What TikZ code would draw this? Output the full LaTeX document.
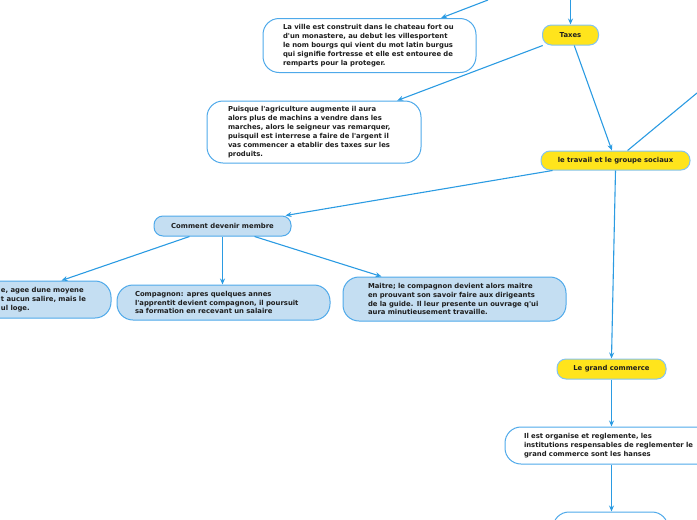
\documentclass[tikz,border=0pt]{standalone}
\usepackage{fontspec}
\setmainfont{DejaVu Sans}
\usetikzlibrary{arrows.meta}
\definecolor{linec}{HTML}{2B9BE2}
\definecolor{bordc}{HTML}{4EA9EA}
\definecolor{yelc}{HTML}{FFE41C}
\definecolor{lbluec}{HTML}{C4DEF2}
\definecolor{txtc}{HTML}{1E1E1E}
\newcommand{\aq}{\textquotesingle}
\tikzset{
  x=1pt, y=-1pt,
  conn/.style={draw=linec, line width=1.1pt},
  arr/.style={conn, -{Stealth[length=6pt,width=5pt]}},
  box/.style={draw=bordc, line width=1pt, fill=white, rounded corners=16pt,
    align=left, text=txtc, inner ysep=0pt,
    font=\fontsize{6.85}{8.9}\selectfont\bfseries},
  lbox/.style={box, fill=lbluec},
  ybox/.style={draw=bordc!70, line width=1pt, fill=yelc, rounded corners=9pt,
    align=center, text=txtc, inner sep=0pt, minimum height=20pt,
    font=\fontsize{6.85}{8}\selectfont\bfseries},
  cbox/.style={ybox, fill=lbluec, draw=bordc}
}
\begin{document}
\begin{tikzpicture}
\useasboundingbox (0,0) rectangle (697,520);
\clip (0,0) rectangle (697,520);

\node[box, minimum width=213pt, minimum height=54pt, inner xsep=20pt, text width=173pt]
  (ville) at (369.5,45.5) {La ville est construit dans le chateau fort ou\\d\aq un monastere, au debut les villesportent\\le nom bourgs qui vient du mot latin burgus\\qui signifie fortresse et elle est entouree de\\remparts pour la proteger.};

\node[box, minimum width=214pt, minimum height=62pt, inner xsep=21pt, text width=172pt]
  (puis) at (314,132) {Puisque l\aq agriculture augmente il aura\\alors plus de machins a vendre dans les\\marches, alors le seigneur vas remarquer,\\puisquil est interrese a faire de l\aq argent il\\vas commencer a etablir des taxes sur les\\produits.};

\node[ybox, minimum width=56pt] (taxes) at (570.5,35) {Taxes};
\node[ybox, minimum width=149pt, minimum height=19pt] (trav) at (615.5,160.5) {le travail et le groupe sociaux};
\node[cbox, minimum width=137pt] (comm) at (222.5,226) {Comment devenir membre};

\node[lbox, minimum width=131pt, minimum height=37pt, inner xsep=21pt, text width=89pt]
  (appr) at (45.5,299.5) {e, agee dune moyene\\t aucun salire, mais le\\ul loge.};
\node[lbox, minimum width=213pt, minimum height=35pt, inner xsep=18pt, text width=177pt]
  (comp) at (223.5,302.5) {Compagnon: apres quelques annes\\l\aq apprentit devient compagnon, il poursuit\\sa formation en recevant un salaire};
\node[lbox, minimum width=223pt, minimum height=44pt, inner xsep=25pt, text width=173pt]
  (mait) at (454.5,299) {Maitre; le compagnon devient alors maitre\\en prouvant son savoir faire aux dirigeants\\de la guide. Il leur presente un ouvrage q\aq ui\\aura minutieusement travaille.};

\node[ybox, minimum width=109pt] (grand) at (611.5,369) {Le grand commerce};
\node[box, minimum width=210pt, minimum height=37pt, inner xsep=19pt, text width=172pt]
  (ilest) at (610,445.5) {Il est organise et reglemente, les\\institutions respensables de reglementer le\\grand commerce sont les hanses};
\node[box, minimum width=115pt, minimum height=28pt] (bott) at (610.5,526) {};

\coordinate (topA) at (488,0);
\coordinate (topB) at (570.5,-2);
\coordinate (rightA) at (697,93);

\draw[arr] (topA) -- (ville);
\draw[arr] (topB) -- (taxes.north);
\draw[arr] (taxes) -- (puis);
\draw[arr] (taxes) -- (trav);
\draw[conn] (rightA) -- (trav);
\draw[arr] ([xshift=12pt]trav.south west) -- ([xshift=-6pt]comm.north east);
\draw[arr] ([xshift=36pt]comm.south west) -- ([xshift=82pt]appr.north west);
\draw[arr] (comm.south) -- (comm.south |- comp.north);
\draw[arr] ([xshift=101pt]comm.south west) -- ([xshift=39pt]mait.north west);
\draw[arr] (trav.south) -- (grand.north);
\draw[arr] (grand.south) -- (grand.south |- ilest.north);
\draw[arr] (grand.south |- ilest.south) -- (grand.south |- bott.north);
\end{tikzpicture}
\end{document}
